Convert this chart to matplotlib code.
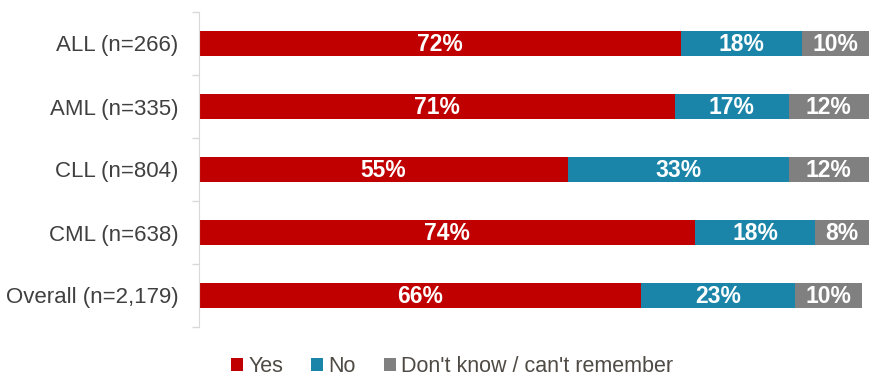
import matplotlib
matplotlib.use("Agg")
import matplotlib.pyplot as plt
import numpy as np

plt.rcParams['font.family'] = ['Liberation Sans', 'DejaVu Sans']

categories = ["ALL (n=266)", "AML (n=335)", "CLL (n=804)", "CML (n=638)", "Overall (n=2,179)"]
yes = [72, 71, 55, 74, 66]
no = [18, 17, 33, 18, 23]
dont_know = [10, 12, 12, 8, 10]
series_names = ["Yes", "No", "Don't know / can't remember"]
colors = ["#C00000", "#1A85A8", "#808080"]

fig = plt.figure(figsize=(8.71, 3.81), dpi=100)
ax = fig.add_axes([199 / 871, 1 - 327 / 381, 670 / 871, 315 / 381])

y = np.arange(len(categories))
left = np.zeros(len(categories))
for vals, name, col in zip([yes, no, dont_know], series_names, colors):
    vals = np.array(vals, dtype=float)
    ax.barh(y, vals, left=left, height=0.40, color=col, label=name)
    for yi, l, v in zip(y, left, vals):
        ax.text(l + v / 2, yi + 0.02, f"{v:.0f}%", ha="center", va="center",
                color="white", fontsize=16.5, fontweight="bold")
    left += vals

ax.set_xlim(0, 100)
ax.set_ylim(len(categories) - 0.5, -0.5)
ax.set_yticks(y)
ax.set_yticklabels(categories, fontsize=16, color="#404040")
ax.set_yticks(np.arange(-0.5, len(categories)), minor=True)
ax.tick_params(axis="y", which="major", length=0, pad=15)
ax.tick_params(axis="y", which="minor", length=5, color="#D9D9D9", width=1)
ax.set_xticks([])
for s in ["top", "right", "bottom"]:
    ax.spines[s].set_visible(False)
ax.spines["left"].set_color("#D9D9D9")

handles, labels = ax.get_legend_handles_labels()
fig.legend(handles, labels, loc="center", bbox_to_anchor=(452 / 871, 1 - 367 / 381),
           ncol=3, frameon=False, fontsize=15.5, handlelength=0.55, handleheight=0.55,
           handletextpad=0.25, columnspacing=1.3, labelcolor="#4F4A44")

fig.savefig("out.png", dpi=100)
